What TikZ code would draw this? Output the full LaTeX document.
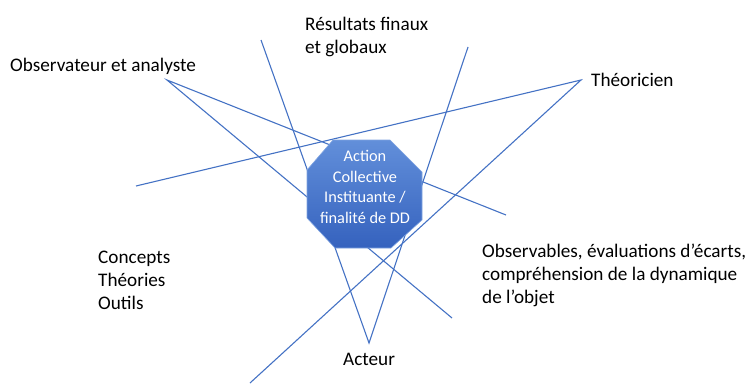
\documentclass[tikz,border=0pt]{standalone}
\usepackage{fontspec}
\setmainfont{Carlito}
\begin{document}
\begin{tikzpicture}[x=1pt,y=-1pt,
  conn/.style={draw=lineblue,line width=1.1pt},
  lbl/.style={anchor=base west,inner sep=0pt,align=left,font=\fontsize{19.2}{23}\selectfont},
  octtxt/.style={anchor=base,text=white,align=center,inner sep=0pt,font=\fontsize{16.3}{20.4}\selectfont}]
\definecolor{lineblue}{HTML}{4472C4}
\definecolor{octtop}{HTML}{628FDA}
\definecolor{octbot}{HTML}{3562BE}
\useasboundingbox (0,0) rectangle (754,383);
% named endpoints
\coordinate (obs) at (167,80);
\coordinate (obsR) at (506,215);
\coordinate (obsD) at (452,318);
\coordinate (resL) at (261,40);
\coordinate (resR) at (468,47);
\coordinate (act) at (369,343);
\coordinate (theo) at (581,80);
\coordinate (theoL) at (136,186);
\coordinate (theoD) at (250,383);
% connectors
\draw[conn] (obsR) -- (obs) -- (obsD);
\draw[conn] (resL) -- (act) -- (resR);
\draw[conn] (theoL) -- (theo) -- (theoD);
% octagon
\shade[top color=octtop,bottom color=octbot,draw=octtop!80!white,line width=0.6pt]
  (333,140) -- (390,140) -- (422,172) -- (422,220) -- (391,248) -- (335,248) -- (307,218) -- (307,170) -- cycle;
\node[octtxt] (oct) at (365,223) {Action\\Collective\\Instituante /\\finalité de DD};
% labels (base = baseline of the last line)
\node[lbl] (res) at (305,53) {Résultats finaux\\et globaux};
\node[lbl] (obst) at (10,71) {Observateur et analyste};
\node[lbl] (theot) at (591,86) {Théoricien};
\node[lbl] (conc) at (98,309) {Concepts\\Théories\\Outils};
\node[lbl] (obv) at (482,303) {Observables, évaluations d’écarts,\\compréhension de la dynamique\\de l’objet};
\node[lbl] (actt) at (343,365) {Acteur};
\end{tikzpicture}
\end{document}
